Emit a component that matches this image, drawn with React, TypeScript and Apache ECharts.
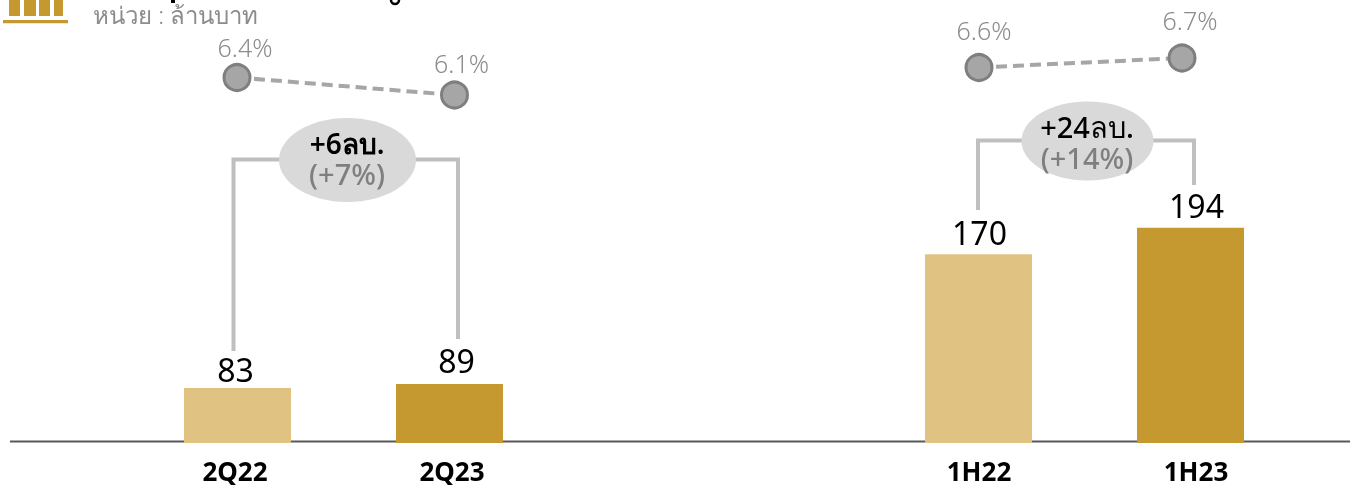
import React, { useEffect, useRef } from "react";
import * as echarts from "echarts";

const periodsQ = ["2Q22", "2Q23"];
const periodsH = ["1H22", "1H23"];
const profitQ = [83, 89];
const profitH = [170, 194];
const marginQ = [6.4, 6.1];
const marginH = [6.6, 6.7];
const deltaQ = ["+6ลบ.", "(+7%)"];
const deltaH = ["+24ลบ.", "(+14%)"];
const unitText = "หน่วย : ล้านบาท";
const LIGHT = "#E0C382";
const GOLD = "#C59830";
const FONT = '"Noto Sans", "Open Sans", sans-serif';

const hiddenY = (i: number, min: number, max: number) => ({
  type: "value", gridIndex: i, min, max, show: false,
});
const catX = (i: number, data: string[], showLabels = false) => ({
  type: "category", gridIndex: i, data,
  axisLine: { show: false }, axisTick: { show: false }, splitLine: { show: false },
  axisLabel: showLabels
    ? { show: true, fontFamily: FONT, fontSize: 26, fontWeight: "bold", color: "#000", margin: 15, interval: 0 }
    : { show: false },
});
const barSeries = (i: number, vals: number[], offsets: number[][]) => ({
  type: "bar", xAxisIndex: i, yAxisIndex: i, barWidth: 107,
  data: vals.map((value, k) => ({
    value,
    itemStyle: { color: k === 0 ? LIGHT : GOLD },
    label: { show: true, position: "top", offset: offsets[k], fontFamily: FONT, fontSize: 32, color: "#000", distance: 0 },
  })),
});
const lineSeries = (i: number, vals: number[], offsets: number[][]) => ({
  type: "line", xAxisIndex: i, yAxisIndex: i, symbol: "circle", symbolSize: 26,
  lineStyle: { color: "#A6A6A6", width: 4, type: [11, 6] },
  itemStyle: { color: "#A6A6A6", borderColor: "#7F7F7F", borderWidth: 3 },
  data: vals.map((value, k) => ({
    value,
    label: { show: true, position: "top", offset: offsets[k], distance: 0, fontFamily: FONT, fontSize: 25, fontWeight: 300, color: "#8C8C8C", formatter: "{c}%" },
  })),
});

const bracket = (pts: number[][]) => ({
  type: "polyline", z: 1, shape: { points: pts },
  style: { stroke: "#BFBFBF", lineWidth: 4, fill: "none" },
});
const bubble = (cx: number, cy: number, rx: number, ry: number) => ({
  type: "ellipse", z: 2, shape: { cx, cy, rx, ry }, style: { fill: "#D9D9D9" },
});
const txt = (x: number, y: number, text: string, fill: string, fontSize: number, fontWeight: any = "bold", align = "center") => ({
  type: "text", z: 3, x, y,
  style: { text, fill, fontSize, fontWeight, fontFamily: FONT, align, verticalAlign: "middle" },
});
const iconRect = (x: number, y: number, width: number, height: number) => ({
  type: "rect", z: 1, shape: { x, y, width, height }, style: { fill: GOLD },
});

export default function App() {
  const ref = useRef<HTMLDivElement>(null);
  useEffect(() => {
    const chart = echarts.init(ref.current!, undefined, { renderer: "svg" });
    chart.setOption({
      animation: false,
      grid: [
        { left: 131.5, width: 424, top: 43, height: 400 },
        { left: 872.5, width: 424, top: 43, height: 400 },
        { left: 128.25, width: 435, top: 42.5, height: 116.67 },
        { left: 877.5, width: 406, top: 29.5, height: 95 },
        { left: 126.5, width: 434, top: 43, height: 400 },
        { left: 870.5, width: 434, top: 43, height: 400 },
      ],
      xAxis: [
        catX(0, periodsQ), catX(1, periodsH), catX(2, periodsQ), catX(3, periodsH),
        catX(4, periodsQ, true), catX(5, periodsH, true),
      ],
      yAxis: [
        hiddenY(0, 0, 400 / 0.663), hiddenY(1, 0, 400 / 1.11),
        hiddenY(2, 5, 7), hiddenY(3, 6, 7),
        hiddenY(4, 0, 1), hiddenY(5, 0, 1),
      ],
      series: [
        barSeries(0, profitQ, [[-2, -2], [7, -7]]),
        barSeries(1, profitH, [[1, -6], [6, -6]]),
        lineSeries(2, marginQ, [[8, -4], [7, -5]]),
        lineSeries(3, marginH, [[5, -11], [8, -11]]),
      ],
      graphic: [
        { type: "line", z: 0, shape: { x1: 10, y1: 441.5, x2: 1350, y2: 441.5 }, style: { stroke: "#595959", lineWidth: 2 } },
        bracket([[233.5, 351], [233.5, 159.5], [458, 159.5], [458, 339]]),
        bracket([[978, 210], [978, 140.5], [1194, 140.5], [1194, 185]]),
        bubble(347.5, 160, 68.5, 42),
        bubble(1087.5, 141, 66, 39.5),
        txt(347, 143, deltaQ[0], "#000", 28, 600),
        txt(347, 173, deltaQ[1], "#7F7F7F", 29, 500),
        txt(1087, 126, deltaH[0], "#000", 29, 500),
        txt(1087, 157, deltaH[1], "#7F7F7F", 29, 500),
        txt(93, 14, unitText, "#8C8C8C", 24, 300, "left"),
        iconRect(3, 20, 65, 3.3),
        iconRect(9, 0, 11, 16),
        iconRect(24, 0, 12, 16),
        iconRect(39, 0, 11, 16),
        iconRect(54, 0, 9, 16),
        { type: "rect", z: 1, shape: { x: 171, y: 0, width: 4, height: 3 }, style: { fill: "#000" } },
        { type: "arc", z: 1, shape: { cx: 395, cy: 0, r: 4, startAngle: 0, endAngle: Math.PI }, style: { stroke: "#000", lineWidth: 2.5, fill: "none" } },
      ],
    });
    return () => chart.dispose();
  }, []);
  return <div ref={ref} style={{ position: "fixed", left: 0, top: 0, width: 1359, height: 485 }} />;
}
